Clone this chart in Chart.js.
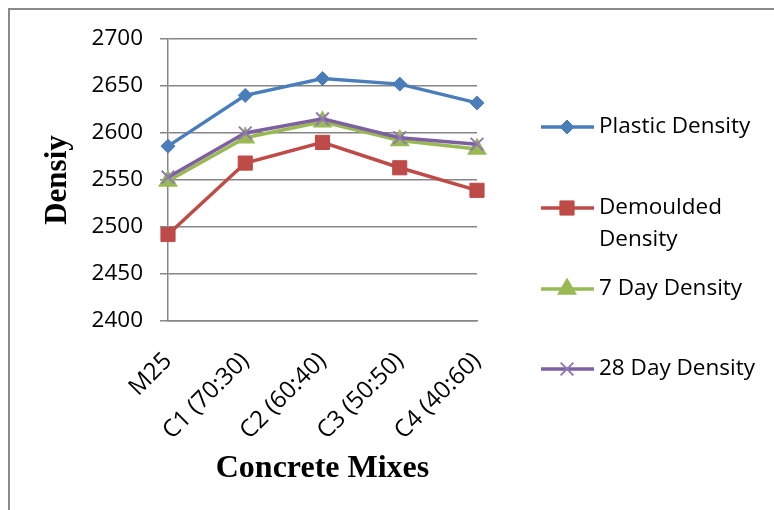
<!DOCTYPE html>
<html>
<head>
<meta charset="utf-8">
<title>Density of Concrete Mixes</title>
<script src="https://cdn.jsdelivr.net/npm/chart.js@4.4.1/dist/chart.umd.min.js"></script>
<style>
  html, body { margin: 0; padding: 0; background: #fff; }
  .wrap { position: absolute; left: 0; top: 0; width: 774px; height: 510px; overflow: hidden; }
  .frame { position: absolute; left: 8px; top: 8px; width: 900px; height: 700px; border: 2.5px solid #8a8a8a; }
  #chart { position: absolute; left: 0; top: 0; }
</style>
</head>
<body>
<div class="wrap">
  <div class="frame"></div>
  <canvas id="chart" width="774" height="510"></canvas>
</div>
<script>
const mixes = ['M25', 'C1 (70:30)', 'C2 (60:40)', 'C3 (50:50)', 'C4 (40:60)'];
const plasticDensity = [2586, 2640, 2658, 2652, 2632];
const demouldedDensity = [2492, 2568, 2590, 2563, 2539];
const day7Density = [2549, 2595, 2612, 2592, 2583];
const day28Density = [2553, 2600, 2615, 2595, 2588];
const yTicks = [2400, 2450, 2500, 2550, 2600, 2650, 2700];

const labelFont = '"Open Sans", "Noto Sans", sans-serif';
const gridGray = '#868686';

// legend rows drawn to the right of the plot
const legendRowY = [127, 208, 289, 369];

function wrapWords(ctx, text, maxWidth) {
  const words = text.split(' ');
  const lines = [];
  let line = '';
  words.forEach(w => {
    const test = line ? line + ' ' + w : w;
    if (line && ctx.measureText(test).width > maxWidth) {
      lines.push(line);
      line = w;
    } else {
      line = test;
    }
  });
  if (line) lines.push(line);
  return lines;
}

const sideLegend = {
  id: 'sideLegend',
  afterDraw(chart) {
    const ctx = chart.ctx;
    ctx.save();
    ctx.font = '22.5px ' + labelFont;
    ctx.textBaseline = 'middle';
    ctx.textAlign = 'left';
    chart.data.datasets.forEach((ds, i) => {
      const y = legendRowY[i];
      ctx.strokeStyle = ds.borderColor;
      ctx.lineWidth = ds.borderWidth;
      ctx.beginPath();
      ctx.moveTo(541, y);
      ctx.lineTo(594, y);
      ctx.stroke();

      ctx.fillStyle = ds.pointBackgroundColor;
      ctx.strokeStyle = ds.pointBorderColor;
      ctx.lineWidth = ds.pointBorderWidth;
      Chart.helpers.drawPoint(ctx, {
        pointStyle: ds.pointStyle,
        radius: ds.pointRadius,
        rotation: 0,
        borderWidth: ds.pointBorderWidth
      }, 567, y);

      ctx.fillStyle = '#000';
      wrapWords(ctx, ds.label, 172).forEach((line, k) => {
        ctx.fillText(line, 599, y + k * 32);
      });
    });
    ctx.restore();
  }
};

function series(label, data, color, style, radius, order, extra) {
  return Object.assign({
    label: label,
    data: data,
    borderColor: color,
    backgroundColor: color,
    borderWidth: 3.5,
    pointStyle: style,
    pointRadius: radius,
    pointHoverRadius: radius,
    pointBackgroundColor: color,
    pointBorderColor: color,
    pointBorderWidth: 1,
    tension: 0,
    clip: false,
    order: order
  }, extra || {});
}

new Chart(document.getElementById('chart'), {
  type: 'line',
  data: {
    labels: mixes,
    datasets: [
      series('Plastic Density', plasticDensity, '#4a7ebb', 'rectRot', 7, 4),
      series('Demoulded Density', demouldedDensity, '#be4b48', 'rect', 10, 3),
      series('7 Day Density', day7Density, '#98b954', 'triangle', 11.5, 2, { pointBorderWidth: 0 }),
      series('28 Day Density', day28Density, '#7d60a0', 'crossRot', 9, 1, { pointBorderColor: '#9277b5', pointBorderWidth: 2 })
    ]
  },
  options: {
    responsive: false,
    animation: false,
    events: [],
    layout: { padding: { left: 0, top: 39, right: 297, bottom: 0 } },
    plugins: {
      legend: { display: false },
      tooltip: { enabled: false }
    },
    scales: {
      x: {
        offset: false,
        afterFit(scale) { scale.height = 189; },
        grid: { display: true, drawOnChartArea: false, drawTicks: false },
        border: { color: gridGray, width: 1.5 },
        ticks: {
          autoSkip: false,
          minRotation: 45,
          maxRotation: 45,
          padding: 26,
          color: '#000',
          font: { family: labelFont, size: 24 }
        },
        title: {
          display: true,
          text: 'Concrete Mixes',
          color: '#000',
          padding: { top: 0, bottom: 22 },
          font: { family: '"Liberation Serif", "Times New Roman", serif', size: 32, weight: 'bold' }
        }
      },
      y: {
        min: 2400,
        max: 2700,
        afterFit(scale) { scale.width = 168; },
        afterBuildTicks(scale) { scale.ticks = yTicks.map(v => ({ value: v })); },
        grid: { color: gridGray, lineWidth: 1.5, tickLength: 8 },
        border: { color: gridGray, width: 1.5 },
        ticks: {
          padding: 17,
          color: '#000',
          font: { family: labelFont, size: 22.5 },
          callback: (value) => String(value)
        },
        title: {
          display: true,
          text: 'Densiy',
          color: '#000',
          padding: { top: 39, bottom: 0 },
          font: { family: '"Liberation Serif", "Times New Roman", serif', size: 31, weight: 'bold' }
        }
      }
    }
  },
  plugins: [sideLegend]
});
</script>
</body>
</html>
